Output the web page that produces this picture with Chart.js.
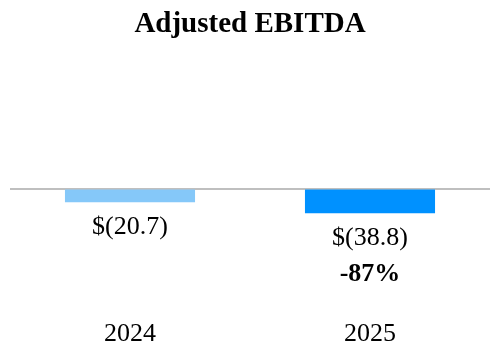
<!DOCTYPE html>
<html>
<head>
<meta charset="utf-8">
<script src="https://cdn.jsdelivr.net/npm/chart.js@4/dist/chart.umd.min.js"></script>
<style>
  html, body { margin: 0; padding: 0; background: #ffffff; }
  #wrap { width: 500px; height: 360px; }
</style>
</head>
<body>
<div id="wrap"><canvas id="c" width="500" height="360"></canvas></div>
<script>
const categories = ['2024', '2025'];
const values = [-20.7, -38.8];
const valueLabels = ['$(20.7)', '$(38.8)'];
const changeLabels = ['', '-87%'];
const barColors = ['#85C8F9', '#0091FF'];

const serif = '"Liberation Serif", "Times New Roman", serif';

const labelPlugin = {
  id: 'labelPlugin',
  beforeDatasetsDraw(chart) {
    const ctx = chart.ctx;
    const y = chart.scales.y;
    const area = chart.chartArea;
    const py = Math.round(y.getPixelForValue(0));
    ctx.save();
    ctx.strokeStyle = '#BFBFBF';
    ctx.lineWidth = 2;
    ctx.beginPath();
    ctx.moveTo(area.left, py);
    ctx.lineTo(area.right, py);
    ctx.stroke();
    ctx.restore();
  },
  afterDatasetsDraw(chart) {
    const ctx = chart.ctx;
    const meta = chart.getDatasetMeta(0);
    ctx.save();
    ctx.fillStyle = '#000000';
    ctx.textAlign = 'center';
    ctx.textBaseline = 'middle';
    meta.data.forEach((bar, i) => {
      const bottom = Math.max(bar.y, bar.base);
      ctx.font = '26px ' + serif;
      ctx.fillText(valueLabels[i], bar.x, bottom + 25);
      if (changeLabels[i]) {
        ctx.font = 'bold 26px ' + serif;
        ctx.fillText(changeLabels[i], bar.x, bottom + 61);
      }
    });
    ctx.restore();
  }
};

new Chart(document.getElementById('c'), {
  type: 'bar',
  data: {
    labels: categories,
    datasets: [{
      data: values,
      backgroundColor: barColors,
      borderWidth: 0,
      categoryPercentage: 1,
      barPercentage: 0.542
    }]
  },
  options: {
    responsive: false,
    animation: false,
    layout: { padding: { left: 10, right: 10, top: 0, bottom: 0 } },
    plugins: {
      legend: { display: false },
      tooltip: { enabled: false },
      title: {
        display: true,
        text: 'Adjusted EBITDA',
        color: '#000000',
        font: { family: serif, size: 29, weight: 'bold', lineHeight: 1.2 },
        padding: { top: 7, bottom: 10 }
      }
    },
    scales: {
      x: {
        grid: { display: false, drawTicks: false },
        border: { display: false },
        ticks: { color: '#000000', font: { family: serif, size: 26 }, padding: 10 }
      },
      y: {
        display: false,
        min: -195,
        max: 225
      }
    }
  },
  plugins: [labelPlugin]
});
</script>
</body>
</html>
